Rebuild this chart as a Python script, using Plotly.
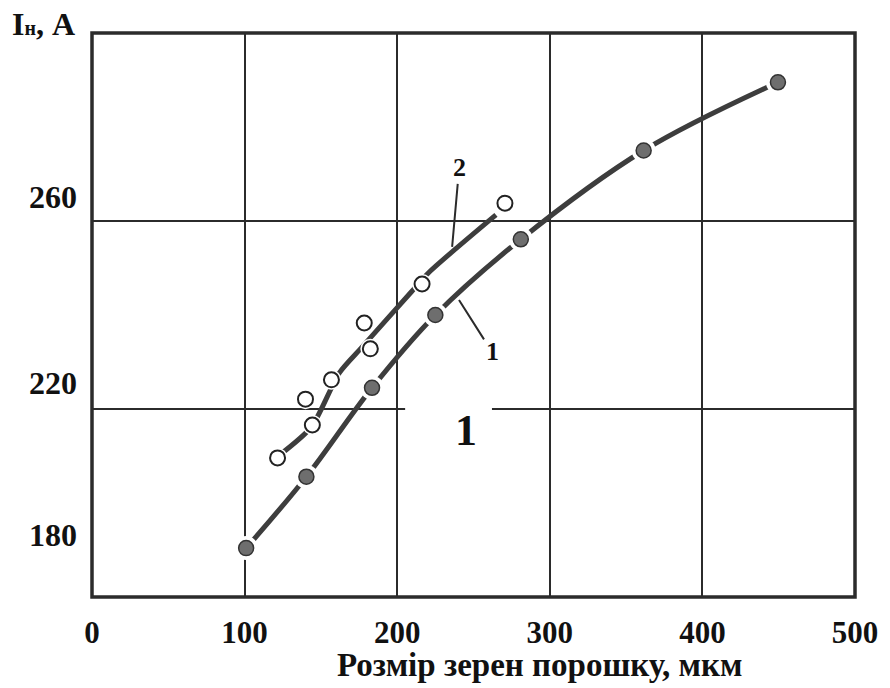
import plotly.graph_objects as go

# Series 1: filled markers (measured points, line drawn through them)
x1 = [101, 140.5, 183.5, 225, 281, 361.5, 449.5]
y1 = [190.4, 205.6, 224.5, 240.0, 256.1, 275.0, 289.5]

# Series 2: open markers
x2 = [121.6, 139.9, 144.4, 156.9, 178.4, 182.4, 216.3, 270.6]
y2 = [209.6, 222.1, 216.6, 226.2, 238.3, 232.8, 246.6, 263.8]

# Trend line drawn for series 2
x2_line = [122.9, 143.8, 162.1, 177.1, 209.2, 220.9, 264.7]
y2_line = [210.2, 216.2, 227.7, 233.2, 244.9, 249.1, 261.3]

# Axis definitions
x_ticks = [0, 100, 200, 300, 400, 500]
y_grid = [220, 260]
y_label_pos = [193.2, 225.5, 265.1]
y_label_text = ["180", "220", "260"]

INK = "#2b2b2b"
LINE = "#3d3d3d"
TXT = "#111111"
FONT = "Liberation Serif"

fig = go.Figure()

# curves, then white halos so the lines break around the markers
fig.add_trace(go.Scatter(x=x1, y=y1, mode="lines", line=dict(color=LINE, width=5, shape="spline"),
                         hoverinfo="skip", showlegend=False))
fig.add_trace(go.Scatter(x=x2_line, y=y2_line, mode="lines",
                         line=dict(color=LINE, width=5, shape="spline", smoothing=0.7),
                         hoverinfo="skip", showlegend=False))
fig.add_trace(go.Scatter(x=x1, y=y1, mode="markers", marker=dict(size=24, color="white"),
                         hoverinfo="skip", showlegend=False))
fig.add_trace(go.Scatter(x=x2, y=y2, mode="markers", marker=dict(size=20, color="white"),
                         hoverinfo="skip", showlegend=False))
fig.add_trace(go.Scatter(x=x1, y=y1, mode="markers", name="1",
                         marker=dict(size=15, color="#6e6e6e", line=dict(color="#333333", width=1.5)),
                         showlegend=False))
fig.add_trace(go.Scatter(x=x2, y=y2, mode="markers", name="2",
                         marker=dict(size=15, color="white", line=dict(color="#222222", width=2)),
                         showlegend=False))
# invisible trace carrying the labelled y axis
fig.add_trace(go.Scatter(x=[0], y=[180], yaxis="y2", mode="markers", marker=dict(opacity=0),
                         hoverinfo="skip", showlegend=False))

fig.update_layout(
    width=890, height=688,
    margin=dict(l=92, r=33, t=33, b=91),
    paper_bgcolor="white", plot_bgcolor="white",
    font=dict(family=FONT, color=TXT),
    xaxis=dict(range=[0, 500], tickvals=x_ticks, ticktext=["<b>%d</b>" % v for v in x_ticks],
               showgrid=True, gridcolor=INK, gridwidth=1.5,
               zeroline=False, showline=False, ticks="", ticklabelstandoff=14,
               tickfont=dict(family=FONT, size=31, color=TXT)),
    yaxis=dict(range=[180, 300], tickvals=y_grid, showgrid=True, gridcolor=INK, gridwidth=1.5,
               zeroline=False, showline=False, ticks="", showticklabels=False),
    yaxis2=dict(range=[180, 300], overlaying="y", side="left", tickvals=y_label_pos,
                ticktext=["<b>%s</b>" % t for t in y_label_text], showgrid=False, zeroline=False,
                showline=False, ticks="", tickfont=dict(family=FONT, size=32, color=TXT),
                ticklabelstandoff=14),
)

# frame
fig.add_shape(type="rect", xref="paper", yref="paper", x0=0, y0=0, x1=1, y1=1,
              line=dict(color=INK, width=3.5), layer="above")

# white patch behind the figure number
fig.add_shape(type="rect", x0=205.2, x1=262.1, y0=216.5, y1=223.0,
              line=dict(width=0), fillcolor="white", layer="above")

# axis titles
fig.add_annotation(xref="paper", yref="paper", x=-0.107, y=1.016, xanchor="left", yanchor="middle",
                   text="<b>I<span style='font-size:20px'>н</span>, A</b>", showarrow=False,
                   font=dict(family=FONT, size=32, color=TXT))
fig.add_annotation(xref="paper", yref="paper", x=0.587, y=-0.121, xanchor="center", yanchor="middle",
                   text="<b>Розмір зерен порошку, мкм</b>", showarrow=False,
                   font=dict(family=FONT, size=33, color=TXT))

# curve labels with leader lines
fig.add_annotation(x=236, y=254.5, ax=7, ay=-79, text="<b>2</b>", showarrow=True, arrowhead=0,
                   arrowwidth=2, arrowcolor=INK, font=dict(family=FONT, size=26, color=TXT))
fig.add_annotation(x=240.5, y=243.2, ax=33, ay=52, text="<b>1</b>", showarrow=True, arrowhead=0,
                   arrowwidth=2, arrowcolor=INK, font=dict(family=FONT, size=26, color=TXT))

# figure number
fig.add_annotation(x=245, y=215.5, text="<b>1</b>", showarrow=False,
                   font=dict(family=FONT, size=44, color=TXT))

fig.write_html("out.html")
